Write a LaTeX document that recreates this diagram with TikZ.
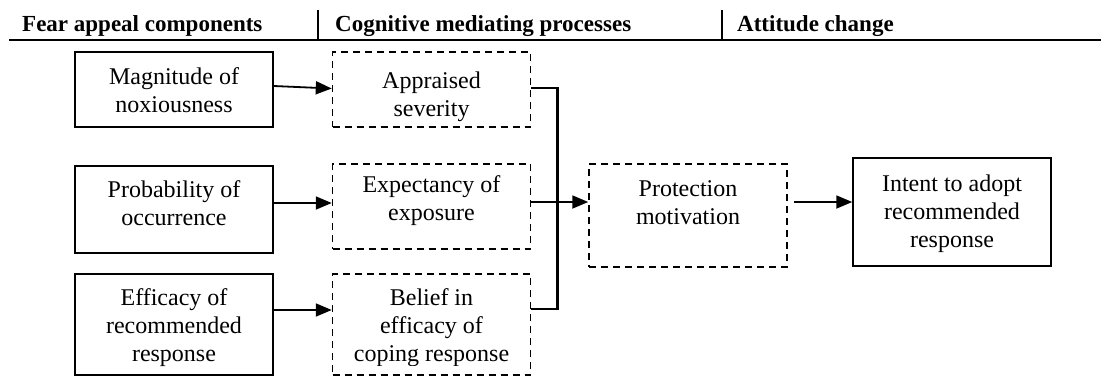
\documentclass[tikz,border=0pt]{standalone}
\usepackage{fontspec}
\setmainfont{Liberation Serif}
\usetikzlibrary{arrows.meta}
\begin{document}
\begin{tikzpicture}[x=1pt,y=-1pt,
  solidbox/.style={draw, line width=1.5pt, minimum width=198pt, inner sep=0pt},
  dashbox/.style={draw, line width=1.5pt, dash pattern=on 7pt off 5pt, minimum width=198pt, inner sep=0pt},
  boxtext/.style={anchor=north, inner sep=0pt, align=center, font=\fontsize{24}{28}\selectfont},
  head/.style={anchor=base west, inner sep=0pt, font=\fontsize{23}{27}\selectfont\bfseries},
  link/.style={line width=1.8pt, -{Triangle[length=16pt,width=13pt]}},
  bracket/.style={line width=2.8pt},
  rule/.style={line width=2.2pt}]
\useasboundingbox (0,0) rectangle (1101,376);

% column headings
\node[head] (h1) at (22,31) {Fear appeal components};
\node[head] (h2) at (335,31) {Cognitive mediating processes};
\node[head] (h3) at (737,31) {Attitude change};
\draw[rule] (9,40) -- (1101,40);
\draw[rule] (318,10) -- (318,40);
\draw[rule] (722,10) -- (722,40);

% fear appeal components
\node[solidbox, minimum height=75pt]  (l1) at (174,89.5) {};
\node[solidbox, minimum height=87pt]  (l2) at (174,209.5) {};
\node[solidbox, minimum height=101pt] (l3) at (174,324.5) {};
\node[boxtext] (l1t) at (174,67) {Magnitude of\\noxiousness};
\node[boxtext] (l2t) at (174,180) {Probability of\\occurrence};
\node[boxtext] (l3t) at (174,288) {Efficacy of\\recommended\\response};

% cognitive mediating processes (text of the first and last box is cut off
% at the bottom by its frame)
\node[dashbox, minimum height=75pt]  (m1) at (431.5,89.5) {};
\node[dashbox, minimum height=85pt]  (m2) at (431.5,206.5) {};
\node[dashbox, minimum height=101pt] (m3) at (431.5,324.5) {};
\begin{scope}
  \clip (334,54) rectangle (529,123);
  \node[boxtext] (m1t) at (431.5,72) {Appraised\\severity};
\end{scope}
\node[boxtext] (m2t) at (431.5,175) {Expectancy of\\exposure};
\begin{scope}
  \clip (334,276) rectangle (529,365);
  \node[boxtext] (m3t) at (431.5,288) {Belief in\\efficacy of\\coping response};
\end{scope}

\node[dashbox, minimum height=103pt] (p) at (688,215.5) {};
\node[boxtext] (pt) at (688,180) {Protection\\motivation};

% attitude change
\node[solidbox, minimum height=108pt] (i) at (952,212) {};
\node[boxtext] (it) at (952,175) {Intent to adopt\\recommended\\response};

% connectors
\draw[link] ([yshift=3.5pt]l1.east) -- ([yshift=1pt]m1.west);
\draw[link] ([yshift=6.5pt]l2.east) -- ([yshift=3.5pt]m2.west);
\draw[link] ([yshift=14.5pt]l3.east) -- ([yshift=14.5pt]m3.west);
\draw[bracket] ([yshift=1.5pt]m1.east) -- ++(26,0) coordinate (bk)
  |- ([yshift=15.5pt]m3.east);
\draw[link] ([yshift=4.5pt]m2.east) -- ([yshift=13.5pt]p.west);
\draw[link] ([xshift=6pt,yshift=13.5pt]p.east) -- ([yshift=10pt]i.west);
\end{tikzpicture}
\end{document}
